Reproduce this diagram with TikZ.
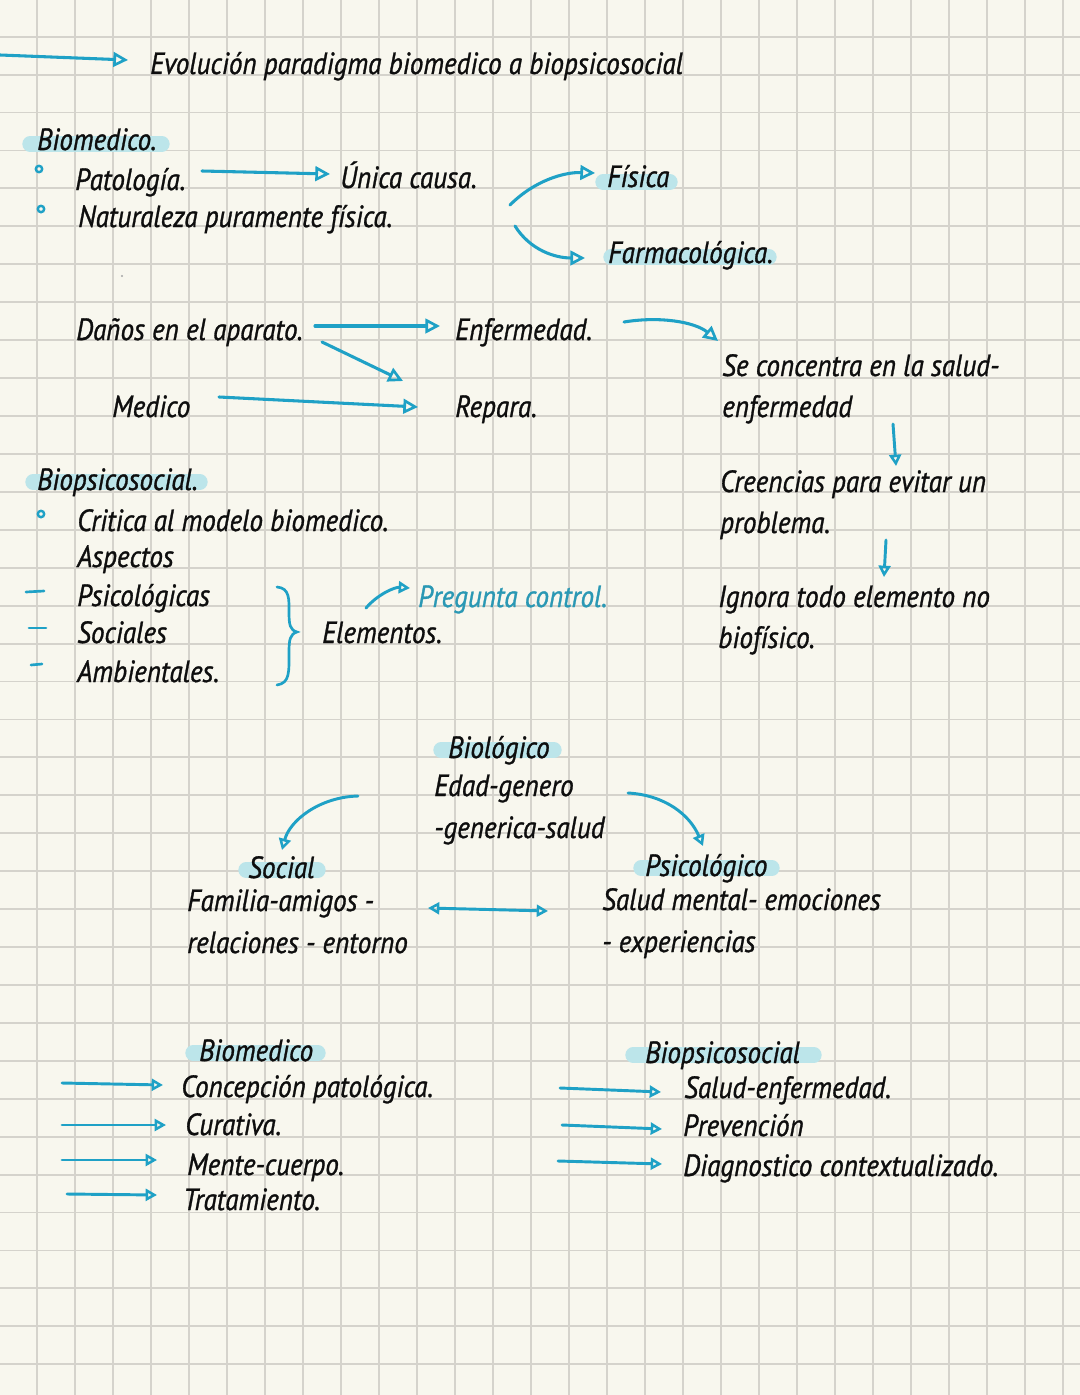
\documentclass[tikz,border=0pt]{standalone}
\usepackage{fontspec}
\setmainfont{PT Sans}[FakeStretch=0.885,FakeBold=1]
\usetikzlibrary{arrows.meta,calc}
\definecolor{bg}{HTML}{F8F7EE}
\definecolor{gridc}{HTML}{D5D3CC}
\definecolor{acc}{HTML}{1FA1C6}
\definecolor{hlc}{HTML}{BCE5EA}
\definecolor{ink}{HTML}{0E0E0E}
\definecolor{tealtxt}{HTML}{2A98B4}
\begin{document}
\begin{tikzpicture}[x=0.75pt,y=-0.75pt,
 txt/.style={anchor=base west, inner sep=0pt, font=\fontsize{23}{27}\selectfont\itshape, text=ink},
 arr/.style={draw=acc, line width=2.3pt, line cap=round, -{Triangle[open,length=11pt,width=11pt,line width=2pt]}},
 sarr/.style={draw=acc, line width=2.2pt, line cap=round, -{Triangle[open,length=8.5pt,width=9pt,line width=1.9pt]}},
 darr/.style={draw=acc, line width=2.2pt, line cap=round, {Triangle[open,length=8.5pt,width=9pt,line width=1.9pt]}-{Triangle[open,length=8.5pt,width=9pt,line width=1.9pt]}},
 hl/.style={draw=hlc, line width=11.5pt, line cap=round},
 bul/.style={draw=acc, line width=1.8pt},
 dashmark/.style={draw=acc, line width=2pt, line cap=round},
]
\useasboundingbox (0,0) rectangle (1080,1395);
\fill[bg] (0,0) rectangle (1080,1395);
\foreach \k in {0,...,27} \draw[gridc, line width=1.4pt] ({37.3+38*\k},0) -- ({37.3+38*\k},1395);
\foreach \k in {0,...,35} \draw[gridc, line width=1.4pt] (0,{36.7+37.93*\k}) -- (1080,{36.7+37.93*\k});

% highlights
\draw[hl] (30,144) -- (162,144);
\draw[hl] (603,182) -- (670,182);
\draw[hl] (611,257) -- (769,257);
\draw[hl] (33,482) -- (200,482);
\draw[hl] (441,750) -- (554,750);
\draw[hl] (246,870) -- (318,870);
\draw[hl] (641,868) -- (772,868);
\draw[hl] (193,1053) -- (318,1053);
\draw[hl] (633,1055) -- (814,1055);

% title
\node[txt] (title) at (150,74) {Evolución paradigma biomedico a biopsicosocial};
\coordinate (t0) at (0,55);
\draw[arr] (t0) -- ($(title.base west)+(-22,-14)$);

% Biomedico block
\node[txt] (biomed) at (37,150) {Biomedico.};
\draw[bul] (39,169) circle[radius=2.4pt];
\draw[bul] (41,209) circle[radius=2.4pt];
\node[txt] (pat) at (75,190) {Patología.};
\node[txt] (nat) at (78,227) {Naturaleza puramente física.};
\node[txt] (unica) at (340,188) {Única causa.};
\coordinate (pa0) at (202,171);
\draw[arr] (pa0) -- ($(unica.base west)+(-10,-14)$);
\node[txt] (fisica) at (607,187) {Física};
\node[txt] (farma) at (608,263) {Farmacológica.};
\coordinate (f0) at (510,205);
\coordinate (g0) at (515,226);
\draw[arr] (f0) .. controls (535,180) and (565,172) .. ($(fisica.base west)+(-12,-14)$);
\draw[arr] (g0) .. controls (530,250) and (555,258) .. ($(farma.base west)+(-23,-5)$);
\fill[gray!70] (122,276) circle[radius=0.9pt];

\node[txt] (danos) at (76,340) {Daños en el aparato.};
\node[txt] (enf) at (455,340) {Enfermedad.};
\node[txt] (medico) at (112,417) {Medico};
\node[txt] (repara) at (455,417) {Repara.};
\coordinate (d0) at (315,326);
\coordinate (d1) at (322,342);
\coordinate (m0) at (219,397);
\draw[arr] (d0) -- ($(enf.base west)+(-15,-14)$);
\draw[arr] (d1) -- ($(repara.base west)+(-52,-36)$);
\draw[arr] (m0) -- ($(repara.base west)+(-37,-10)$);

\node[txt] (sec) at (722,376) {Se concentra en la salud-};
\node[txt] (sec2) at (722,417) {enfermedad};
\coordinate (e0) at (624,322);
\draw[arr] (e0) .. controls (660,316) and (695,322) .. ($(sec.base west)+(-4,-35)$);
\node[txt] (cre) at (720,492) {Creencias para evitar un};
\node[txt] (cre2) at (720,533) {problema.};
\coordinate (s0) at (893,424);
\draw[sarr] (s0) -- ($(cre.base west)+(176,-26)$);
\node[txt] (ign) at (718,607) {Ignora todo elemento no};
\node[txt] (ign2) at (718,648) {biofísico.};
\coordinate (c0) at (886,540);
\draw[sarr] (c0) -- ($(ign.base west)+(166,-30)$);

% Biopsicosocial block
\node[txt] (biops) at (37,490) {Biopsicosocial.};
\draw[bul] (41,514) circle[radius=2.4pt];
\node[txt] (crit) at (77,531) {Critica al modelo biomedico.};
\node[txt] (asp) at (77,567) {Aspectos};
\node[txt] (psi) at (77,606) {Psicológicas};
\node[txt] (soc) at (77,643) {Sociales};
\node[txt] (amb) at (77,682) {Ambientales.};
\draw[dashmark] (26,592) -- (44,591);
\draw[dashmark] (29,628) -- (46,628);
\draw[dashmark] (31,665) -- (42,664);
\draw[acc, line width=2pt, line cap=round] (277,587) .. controls (290,588) and (289,600) .. (289,612) .. controls (289,625) and (290,630) .. (297,632) .. controls (290,634) and (289,640) .. (289,652) .. controls (289,672) and (290,683) .. (277,685);
\node[txt] (elem) at (322,643) {Elementos.};
\node[txt, text=tealtxt] (preg) at (418,607) {Pregunta control.};
\coordinate (p0) at (366,608);
\draw[sarr] (p0) .. controls (378,594) and (395,587) .. ($(preg.base west)+(-8,-19)$);

% triangle
\node[txt] (bio) at (448,758) {Biológico};
\node[txt] (bio2) at (434,796) {Edad-genero};
\node[txt] (bio3) at (434,838) {-generica-salud};
\node[txt] (social) at (248,878) {Social};
\node[txt] (fam) at (187,911) {Familia-amigos -};
\node[txt] (rel) at (187,953) {relaciones - entorno};
\node[txt] (psico) at (645,876) {Psicológico};
\node[txt] (salm) at (602,910) {Salud mental- emociones};
\node[txt] (exp) at (602,952) {- experiencias};
\coordinate (b0) at (358,796);
\coordinate (b1) at (628,793);
\draw[sarr] (b0) .. controls (320,797) and (290,820) .. ($(social.base west)+(34,-28)$);
\draw[sarr] (b1) .. controls (665,795) and (690,815) .. ($(psico.base west)+(58,-30)$);
\draw[darr] ($(fam.base west)+(241,-3)$) -- ($(salm.base west)+(-54,1)$);

% bottom lists
\node[txt] (bm) at (199,1061) {Biomedico};
\node[txt] (l1) at (181,1097) {Concepción patológica.};
\node[txt] (l2) at (185,1135) {Curativa.};
\node[txt] (l3) at (187,1175) {Mente-cuerpo.};
\node[txt] (l4) at (183,1210) {Tratamiento.};
\coordinate (a1) at (62,1083);
\coordinate (a2) at (62,1125);
\coordinate (a3) at (62,1160);
\coordinate (a4) at (67,1194);
\draw[sarr] (a1) -- ($(l1.base west)+(-18,-12)$);
\draw[sarr] (a2) -- ($(l2.base west)+(-19,-10)$);
\draw[sarr] (a3) -- ($(l3.base west)+(-30,-15)$);
\draw[sarr] (a4) -- ($(l4.base west)+(-26,-15)$);

\node[txt] (bp) at (645,1063) {Biopsicosocial};
\node[txt] (r1) at (684,1098) {Salud-enfermedad.};
\node[txt] (r2) at (683,1136) {Prevención};
\node[txt] (r3) at (683,1176) {Diagnostico contextualizado.};
\coordinate (q1) at (560,1088);
\coordinate (q2) at (562,1125);
\coordinate (q3) at (558,1161);
\draw[sarr] (q1) -- ($(r1.base west)+(-23,-6)$);
\draw[sarr] (q2) -- ($(r2.base west)+(-21,-7)$);
\draw[sarr] (q3) -- ($(r3.base west)+(-21,-12)$);
\end{tikzpicture}
\end{document}
